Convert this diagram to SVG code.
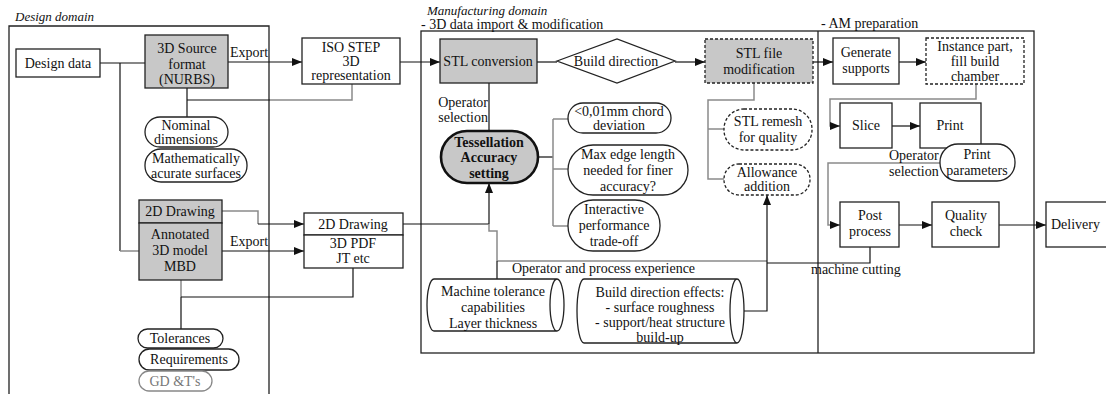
<svg xmlns="http://www.w3.org/2000/svg" width="1106" height="394" viewBox="0 0 1106 394" font-family="'Liberation Serif', 'Times New Roman', serif">
<style>
text{font-size:14px;fill:#111}
.c{text-anchor:middle}
.it{font-style:italic;font-size:13px}
.b{font-weight:bold}
.box{fill:#fff;stroke:#222;stroke-width:1.3}
.gbox{fill:#c8c8c8;stroke:#222;stroke-width:1.3}
.dash{stroke-dasharray:3 2}
.ln{stroke:#111;fill:none;stroke-width:1.2}
.gl{stroke:#8a8a8a;fill:none;stroke-width:1.5}
.fr{stroke:#222;fill:none;stroke-width:1.3}
.gt{fill:#777}
</style>
<defs>
<marker id="ah" markerUnits="userSpaceOnUse" markerWidth="10" markerHeight="8" refX="10" refY="4" orient="auto">
<path d="M0,0 L10,4 L0,8 Z" fill="#111"/>
</marker>
</defs>

<g id="frames">
<polyline class="fr" points="9,394 9,26 269,26 269,394"/>
<rect class="fr" x="421" y="31" width="613" height="322"/>
<line class="fr" x1="818" y1="31" x2="818" y2="353"/>
<text class="it" x="15" y="21">Design domain</text>
<text class="it" x="427" y="15">Manufacturing domain</text>
<text x="421" y="29" font-size="13.5">- 3D data import &amp; modification</text>
<text x="821" y="28">- AM preparation</text>
</g>

<g id="connectors">
<line class="ln" x1="100" y1="63" x2="145" y2="63"/>
<polyline class="ln" points="120,63 120,251"/>
<line class="gl" x1="120" y1="251" x2="139" y2="251"/>
<line class="ln" x1="228" y1="62" x2="302" y2="62" marker-end="url(#ah)"/>
<line class="ln" x1="187" y1="88" x2="187" y2="117"/>
<line class="ln" x1="187" y1="100" x2="270" y2="100"/>
<polyline class="gl" points="270,100 352,100 352,84"/>
<line class="ln" x1="400" y1="62" x2="440" y2="62" marker-end="url(#ah)"/>
<line class="ln" x1="537" y1="62" x2="557" y2="62"/>
<line class="ln" x1="675" y1="62" x2="705" y2="62" marker-end="url(#ah)"/>
<line class="ln" x1="813" y1="62" x2="833" y2="62" marker-end="url(#ah)"/>
<line class="ln" x1="899" y1="62" x2="926" y2="62" marker-end="url(#ah)"/>
<polyline class="gl" points="976,84 976,99 830,99 830,126 840,126" marker-end="url(#ah)"/>
<line class="ln" x1="892" y1="126" x2="920" y2="126" marker-end="url(#ah)"/>
<polyline class="gl" points="940,163 828,163 828,225 840,225" marker-end="url(#ah)"/>
<line class="ln" x1="899" y1="225" x2="932" y2="225" marker-end="url(#ah)"/>
<line class="ln" x1="999" y1="225" x2="1046" y2="225" marker-end="url(#ah)"/>
<polyline class="ln" points="870,247 870,263 767,263"/>
<line class="gl" x1="767" y1="261" x2="497" y2="261"/>
<line class="ln" x1="489" y1="83" x2="489" y2="131"/>
<line class="ln" x1="537" y1="157" x2="553" y2="157"/>
<line class="gl" x1="553" y1="119" x2="553" y2="226"/>
<line class="gl" x1="553" y1="119" x2="568" y2="119"/>
<line class="gl" x1="553" y1="169" x2="568" y2="169"/>
<line class="gl" x1="553" y1="226" x2="568" y2="226"/>
<line class="ln" x1="403" y1="224" x2="489" y2="224"/>
<line class="ln" x1="489" y1="224" x2="489" y2="183" marker-end="url(#ah)"/>
<polyline class="gl" points="489,224 489,231 497,231 497,261"/>
<line class="ln" x1="497" y1="261" x2="497" y2="279"/>
<polyline class="gl" points="754,83 754,100 708,100 708,179 724,179"/>
<line class="gl" x1="708" y1="129" x2="724" y2="129"/>
<polyline class="ln" points="743,311 767,311 767,195" marker-end="url(#ah)"/>
<polyline class="gl" points="222,211 258,211 258,224"/>
<line class="ln" x1="258" y1="224" x2="304" y2="224" marker-end="url(#ah)"/>
<line class="ln" x1="222" y1="251" x2="304" y2="251" marker-end="url(#ah)"/>
<line class="gl" x1="181" y1="280" x2="181" y2="297"/>
<line class="ln" x1="181" y1="297" x2="181" y2="329"/>
<polyline class="ln" points="181,297 353,297 353,268"/>
<text x="230" y="57">Export</text>
<text x="230" y="246">Export</text>
<text x="488" y="107" text-anchor="end">Operator</text>
<text x="488" y="122" text-anchor="end">selection</text>
<text x="512" y="273">Operator and process  experience</text>
<text x="811" y="274">machine cutting</text>
<text x="889" y="160">Operator</text>
<text x="889" y="176">selection</text>
</g>

<g id="design-data">
<rect class="box" x="16" y="49" width="84" height="28"/>
<text class="c" x="58" y="68">Design data</text>
</g>
<g id="source-format">
<rect class="gbox" x="145" y="35" width="83" height="53"/>
<text class="c" x="187" y="53">3D Source</text>
<text class="c" x="187" y="69">format</text>
<text class="c" x="187" y="84">(NURBS)</text>
</g>
<g id="nominal">
<rect class="box" x="145" y="117" width="83" height="30" rx="15"/>
<text class="c" x="186" y="130">Nominal</text>
<text class="c" x="186" y="144">dimensions</text>
</g>
<g id="math-surfaces">
<rect class="box" x="145" y="149" width="102" height="33" rx="16"/>
<text class="c" x="196" y="163">Mathematically</text>
<text class="c" x="196" y="178">acurate surfaces</text>
</g>
<g id="drawing-2d">
<rect class="gbox" x="139" y="200" width="83" height="23"/>
<text class="c" x="180" y="216">2D Drawing</text>
</g>
<g id="annotated">
<rect class="gbox" x="139" y="223" width="83" height="57"/>
<text class="c" x="180" y="239">Annotated</text>
<text class="c" x="180" y="255">3D model</text>
<text class="c" x="180" y="271">MBD</text>
</g>
<g id="tolerances">
<rect class="box" x="138" y="329" width="85" height="19" rx="9.5"/>
<text class="c" x="180" y="343">Tolerances</text>
</g>
<g id="requirements">
<rect class="box" x="139" y="349" width="100" height="21" rx="10.5"/>
<text class="c" x="189" y="364">Requirements</text>
</g>
<g id="gdt">
<rect x="139" y="371" width="73" height="20" rx="10" fill="#fff" stroke="#888" stroke-width="1.3"/>
<text class="c gt" x="175" y="386">GD &amp;T's</text>
</g>
<g id="iso-step">
<rect class="box" x="302" y="38" width="98" height="46"/>
<text class="c" x="351" y="52">ISO STEP</text>
<text class="c" x="351" y="66">3D</text>
<text class="c" x="351" y="80">representation</text>
</g>
<g id="drawing-mfg">
<rect class="box" x="304" y="213" width="99" height="22"/>
<text class="c" x="353" y="229">2D Drawing</text>
</g>
<g id="pdf-jt">
<rect class="box" x="304" y="235" width="99" height="33"/>
<text class="c" x="353" y="248">3D PDF</text>
<text class="c" x="353" y="263">JT etc</text>
</g>
<g id="stl-conversion">
<rect class="gbox" x="440" y="39" width="97" height="44"/>
<text class="c" x="488" y="66">STL conversion</text>
</g>
<g id="build-direction">
<polygon class="box" points="557,61 617,39 675,61 617,83"/>
<text class="c" x="616" y="66">Build direction</text>
</g>
<g id="stl-file-mod">
<rect class="gbox dash" x="705" y="39" width="108" height="44"/>
<text class="c" x="759" y="58">STL file</text>
<text class="c" x="759" y="74">modification</text>
</g>
<g id="tessellation">
<rect x="441" y="131" width="97" height="52" rx="26" fill="#c8c8c8" stroke="#111" stroke-width="2.6"/>
<text class="c b" x="489" y="147">Tessellation</text>
<text class="c b" x="489" y="162">Accuracy</text>
<text class="c b" x="489" y="178">setting</text>
</g>
<g id="chord">
<rect class="box" x="568" y="103" width="103" height="30" rx="15"/>
<text class="c" x="619" y="116">&lt;0,01mm chord</text>
<text class="c" x="619" y="130">deviation</text>
</g>
<g id="max-edge">
<rect class="box" x="568" y="145" width="120" height="50" rx="25"/>
<text class="c" x="628" y="159">Max edge length</text>
<text class="c" x="628" y="175">needed for finer</text>
<text class="c" x="628" y="191">accuracy?</text>
</g>
<g id="interactive">
<rect class="box" x="568" y="200" width="92" height="51" rx="25"/>
<text class="c" x="614" y="214">Interactive</text>
<text class="c" x="614" y="230">performance</text>
<text class="c" x="614" y="246">trade-off</text>
</g>
<g id="stl-remesh">
<rect class="box dash" x="724" y="109" width="88" height="41" rx="20"/>
<text class="c" x="768" y="126">STL remesh</text>
<text class="c" x="768" y="142">for quality</text>
</g>
<g id="allowance">
<rect class="box dash" x="724" y="164" width="86" height="31" rx="15"/>
<text class="c" x="767" y="177">Allowance</text>
<text class="c" x="767" y="191">addition</text>
</g>
<g id="machine-tolerance">
<path class="box" d="M434,279 L557,279 A7,26 0 0 1 557,331 L434,331 A7,26 0 0 1 434,279 Z M557,331 A7,26 0 0 1 557,279"/>
<text class="c" x="493" y="296">Machine tolerance</text>
<text class="c" x="493" y="312">capabilities</text>
<text class="c" x="493" y="328">Layer thickness</text>
</g>
<g id="build-effects">
<path class="box" d="M584,279 L737,279 A7,32 0 0 1 737,343 L584,343 A7,32 0 0 1 584,279 Z M737,343 A7,32 0 0 1 737,279"/>
<text class="c" x="660" y="297">Build direction effects:</text>
<text class="c" x="660" y="312">- surface roughness</text>
<text class="c" x="660" y="327">- support/heat structure</text>
<text class="c" x="660" y="342">build-up</text>
</g>
<g id="generate-supports">
<rect class="box" x="833" y="38" width="66" height="46"/>
<text class="c" x="866" y="57">Generate</text>
<text class="c" x="866" y="73">supports</text>
</g>
<g id="instance-part">
<rect class="box dash" x="926" y="38" width="98" height="46"/>
<text class="c" x="975" y="51">Instance part,</text>
<text class="c" x="975" y="66">fill build</text>
<text class="c" x="975" y="81">chamber</text>
</g>
<g id="slice">
<rect class="box" x="840" y="103" width="52" height="45"/>
<text class="c" x="866" y="130">Slice</text>
</g>
<g id="print">
<rect class="box" x="920" y="103" width="61" height="45"/>
<text class="c" x="950" y="130">Print</text>
</g>
<g id="print-parameters">
<rect class="box" x="940" y="144" width="75" height="37" rx="18"/>
<text class="c" x="977" y="159">Print</text>
<text class="c" x="977" y="175">parameters</text>
</g>
<g id="post-process">
<rect class="box" x="840" y="202" width="59" height="45"/>
<text class="c" x="870" y="220">Post</text>
<text class="c" x="870" y="236">process</text>
</g>
<g id="quality-check">
<rect class="box" x="932" y="202" width="67" height="45"/>
<text class="c" x="966" y="220">Quality</text>
<text class="c" x="966" y="236">check</text>
</g>
<g id="delivery">
<rect class="box" x="1046" y="202" width="70" height="45"/>
<text x="1051" y="229">Delivery</text>
</g>
</svg>
